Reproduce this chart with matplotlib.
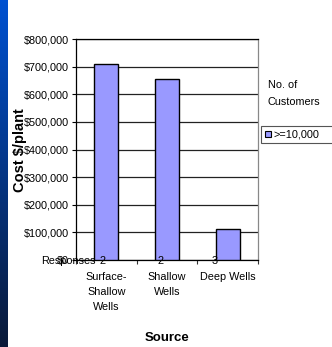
import numpy as np
import matplotlib
matplotlib.use("Agg")
import matplotlib.pyplot as plt
from matplotlib.ticker import FuncFormatter, FixedLocator
from matplotlib.patches import Rectangle

plt.rcParams['font.family'] = ['Liberation Sans', 'DejaVu Sans']

categories = ["Surface-\nShallow\nWells", "Shallow\nWells", "Deep Wells"]
costs = [710000, 655000, 112000]
responses = [2, 2, 3]
series_name = ">=10,000"
y_ticks = [0, 100000, 200000, 300000, 400000, 500000, 600000, 700000, 800000]

FS = 7.8
W, H = 332, 347
fig = plt.figure(figsize=(W / 100, H / 100), dpi=100)
fig.patch.set_facecolor("white")

# blue gradient strip along the left edge
strip = fig.add_axes([0, 0, 8 / W, 1])
grad = np.linspace(0, 1, 256).reshape(-1, 1)
top = np.array([0.0, 0.32, 0.82])
bot = np.array([0.04, 0.10, 0.22])
img = top[None, None, :] * (1 - grad[..., None]) + bot[None, None, :] * grad[..., None]
strip.imshow(img, aspect="auto", extent=[0, 1, 0, 1], origin="upper")
strip.set_axis_off()

# plot area
x0, x1 = 76, 258
y0, y1 = 39, 260
ax = fig.add_axes([x0 / W, 1 - y1 / H, (x1 - x0) / W, (y1 - y0) / H])

x = np.arange(len(categories))
ax.bar(x, costs, width=0.4, color="#9999FF", edgecolor="black", linewidth=1.0, zorder=3)
ax.set_xlim(-0.5, len(categories) - 0.5)
ax.set_ylim(0, 800000)
ax.yaxis.set_major_locator(FixedLocator(y_ticks))
ax.yaxis.set_major_formatter(FuncFormatter(lambda v, p: f"${v:,.0f}"))
ax.grid(axis="y", color="#222222", linewidth=0.9, zorder=0)
ax.tick_params(axis="y", direction="out", length=3, width=0.8, labelsize=FS, pad=2,
               colors="black")

ax.set_xticks(np.arange(len(categories) + 1) - 0.5)
ax.set_xticklabels([])
ax.tick_params(axis="x", direction="out", length=3, width=0.8, colors="#333333")

for s in ["left", "bottom", "top"]:
    ax.spines[s].set_color("black")
    ax.spines[s].set_linewidth(0.9)
ax.spines["right"].set_color("#888888")
ax.spines["right"].set_linewidth(0.9)

# category labels
for xi, c in zip(x, categories):
    ax.text(xi, -0.055, c, transform=ax.get_xaxis_transform(), ha="center", va="top",
            fontsize=FS, linespacing=1.6)

# response counts
ax.text(-1.08, -0.005, "Responses", transform=ax.get_xaxis_transform(), ha="left", va="center",
        fontsize=FS)
offsets = [-0.055, -0.1, -0.21]
for xi, r, o in zip(x, responses, offsets):
    ax.text(xi + o, -0.005, str(r), transform=ax.get_xaxis_transform(), ha="center", va="center",
            fontsize=FS)

fig.text(20 / W, 1 - 150 / H, "Cost $/plant", rotation=90, ha="center", va="center",
         fontsize=10.5, fontweight="bold")
fig.text(167 / W, 1 - 338 / H, "Source", ha="center", va="center",
         fontsize=9.5, fontweight="bold")

# legend
fig.text(268 / W, 1 - 85 / H, "No. of", ha="left", va="center", fontsize=FS)
fig.text(268 / W, 1 - 102 / H, "Customers", ha="left", va="center", fontsize=FS)
fig.patches.append(Rectangle((261 / W, 1 - 143 / H), 80 / W, 17 / H, transform=fig.transFigure,
                             facecolor="white", edgecolor="#555555", linewidth=0.8))
fig.patches.append(Rectangle((265 / W, 1 - 137.5 / H), 6 / W, 6 / H, transform=fig.transFigure,
                             facecolor="#9999FF", edgecolor="black", linewidth=0.8))
fig.text(273 / W, 1 - 134.5 / H, series_name, ha="left", va="center", fontsize=FS)

fig.savefig("out.png", dpi=100)
